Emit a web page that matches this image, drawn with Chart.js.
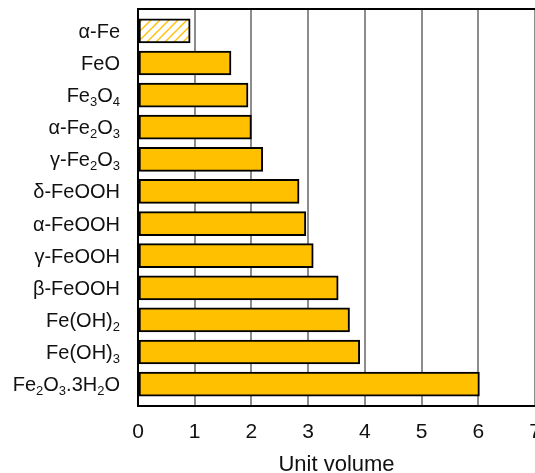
<!DOCTYPE html>
<html>
<head>
<meta charset="utf-8">
<script src="https://cdn.jsdelivr.net/npm/chart.js@4.4.0/dist/chart.umd.min.js"></script>
<style>
  html, body { margin: 0; padding: 0; background: #fff; }
  #wrap { width: 535px; height: 473px; }
</style>
</head>
<body>
<div id="wrap"><canvas id="chart"></canvas></div>
<script>
const categories = ['α-Fe', 'FeO', 'Fe₃O₄', 'α-Fe₂O₃', 'γ-Fe₂O₃', 'δ-FeOOH', 'α-FeOOH', 'γ-FeOOH', 'β-FeOOH', 'Fe(OH)₂', 'Fe(OH)₃', 'Fe₂O₃.3H₂O'];
const unitVolume = [0.92, 1.64, 1.94, 2.0, 2.2, 2.84, 2.96, 3.09, 3.53, 3.73, 3.91, 6.02];
const xTicks = [0, 1, 2, 3, 4, 5, 6, 7];

const FONT = 'Liberation Sans, Arial, sans-serif';
const ORANGE = '#FFC000';
const SUBS = '₀₁₂₃₄₅₆₇₈₉';

// hatched fill for the metal (first bar)
function hatch() {
  const c = document.createElement('canvas');
  c.width = 9; c.height = 9;
  const g = c.getContext('2d');
  g.fillStyle = '#fff';
  g.fillRect(0, 0, 9, 9);
  g.strokeStyle = ORANGE;
  g.lineWidth = 1.4;
  g.beginPath();
  g.moveTo(0, 9); g.lineTo(9, 0);
  g.moveTo(-4.5, 4.5); g.lineTo(4.5, -4.5);
  g.moveTo(4.5, 13.5); g.lineTo(13.5, 4.5);
  g.stroke();
  return g.createPattern(c, 'repeat');
}

const fills = categories.map((c, i) => (i === 0 ? hatch() : ORANGE));
// index axis is numeric so the outer gap can be a bit wider than half a band
const points = unitVolume.map((v, i) => ({ x: v, y: i }));

// split a label into normal / subscript runs
function runs(label) {
  const out = [];
  for (const ch of label) {
    const k = SUBS.indexOf(ch);
    const sub = k >= 0;
    const t = sub ? String(k) : ch;
    if (out.length && out[out.length - 1].sub === sub) out[out.length - 1].t += t;
    else out.push({ t, sub });
  }
  return out;
}

// category labels with real subscripts + top frame line
const labelsAndFrame = {
  id: 'labelsAndFrame',
  afterDraw(chart) {
    const { ctx, chartArea } = chart;
    const yScale = chart.scales.y;
    ctx.save();
    ctx.strokeStyle = '#000';
    ctx.lineWidth = 2;
    ctx.beginPath();
    ctx.moveTo(chartArea.left - 1, chartArea.top);
    ctx.lineTo(chartArea.right + 2, chartArea.top);
    ctx.stroke();

    ctx.fillStyle = '#111';
    ctx.textBaseline = 'alphabetic';
    ctx.textAlign = 'left';
    const main = '20px ' + FONT;
    const small = '13px ' + FONT;
    chart.data.labels.forEach((label, i) => {
      const y = yScale.getPixelForValue(i) + 7;
      const parts = runs(label);
      let w = 0;
      parts.forEach((p) => { ctx.font = p.sub ? small : main; w += ctx.measureText(p.t).width; });
      let x = chartArea.left - 18 - w;
      parts.forEach((p) => {
        ctx.font = p.sub ? small : main;
        ctx.fillText(p.t, x, p.sub ? y + 4 : y);
        x += ctx.measureText(p.t).width;
      });
    });
    ctx.restore();
  },
};

new Chart(document.getElementById('chart'), {
  type: 'bar',
  data: {
    labels: categories,
    datasets: [{
      data: points,
      backgroundColor: fills,
      borderColor: '#000',
      borderWidth: 2,
      borderSkipped: false,
      barThickness: 24,
    }],
  },
  options: {
    indexAxis: 'y',
    responsive: true,
    maintainAspectRatio: false,
    animation: false,
    layout: { padding: { top: 9, right: 0, left: 0, bottom: 0 } },
    plugins: { legend: { display: false }, tooltip: { enabled: false } },
    scales: {
      x: {
        min: 0,
        max: 7,
        afterBuildTicks: (s) => { s.ticks = xTicks.map((v) => ({ value: v })); },
        afterFit: (s) => { s.height = 67; s.paddingLeft = 0; s.paddingRight = 0; },
        grid: { color: '#8c8c8c', lineWidth: 2, drawTicks: false },
        border: { display: true, color: '#000', width: 2 },
        ticks: { color: '#111', padding: 14, font: { family: FONT, size: 21 } },
        title: {
          display: true,
          text: 'Unit volume',
          color: '#111',
          padding: { top: 0, bottom: -5 },
          font: { family: FONT, size: 22 },
        },
      },
      y: {
        type: 'linear',
        reverse: true,
        offset: false,
        min: -0.68,
        max: categories.length - 1 + 0.68,
        afterFit: (s) => { s.width = 138; s.paddingTop = 0; s.paddingBottom = 0; },
        grid: { display: false, drawTicks: false, offset: false },
        border: { display: true, color: '#000', width: 2 },
        ticks: { display: false },
      },
    },
  },
  plugins: [labelsAndFrame],
});
</script>
</body>
</html>
